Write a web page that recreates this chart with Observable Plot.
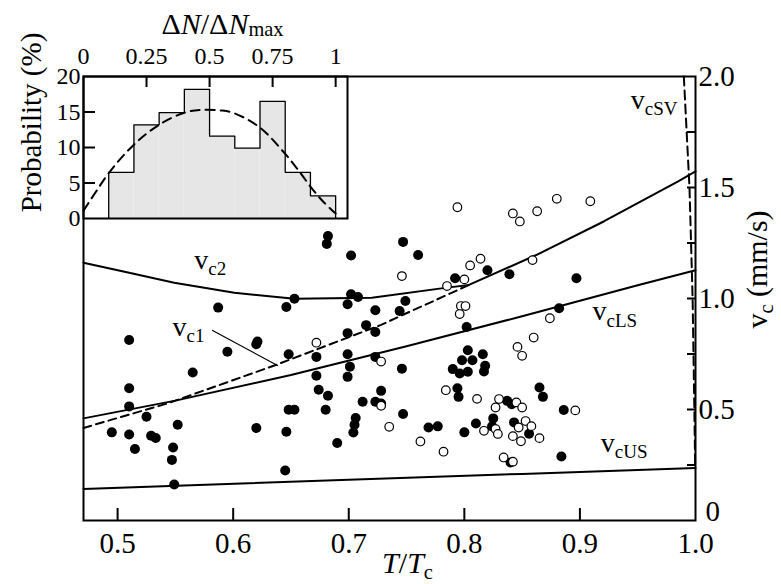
<!DOCTYPE html>
<html><head><meta charset="utf-8">
<script src="https://cdn.jsdelivr.net/npm/d3@7"></script>
<script src="https://cdn.jsdelivr.net/npm/@observablehq/plot@0.6"></script>
<style>
body{margin:0;background:#fff;}
#wrap{position:relative;width:781px;height:584px;}
#wrap svg{position:absolute;left:0;top:0;}
</style></head><body><div id="wrap"></div>
<script>
// ---------- main panel data ----------
const filledT = [0.682,0.681,0.702,0.653,0.646,0.702,0.708,0.699,0.723,0.587,0.715,0.723,0.699,0.510,0.621,0.620,0.595,0.648,0.672,0.699,0.723,0.701,0.565,0.672,0.699,0.510,0.674,0.682,0.712,0.723,0.510,0.648,0.653,0.680,0.525,0.706,0.705,0.704,0.552,0.495,0.510,0.529,0.533,0.620,0.646,0.515,0.548,0.690,0.547,0.645,0.549,
  0.747,0.760,0.820,0.839,0.897,0.792,0.749,0.744,0.802,0.882,0.803,0.798,0.807,0.816,0.818,0.817,0.790,0.796,0.803,0.746,0.728,0.728,0.794,0.795,0.865,0.868,0.837,0.841,0.886,0.747,0.769,0.777,0.825,0.810,0.824,0.800,0.843,0.856,0.840,0.884];
const filledV = [1.281,1.246,1.194,0.999,0.962,1.019,1.007,0.974,0.947,0.959,0.880,0.849,0.844,0.813,0.806,0.794,0.760,0.749,0.737,0.749,0.737,0.693,0.667,0.652,0.647,0.596,0.589,0.562,0.535,0.535,0.514,0.499,0.499,0.499,0.467,0.462,0.431,0.396,0.431,0.397,0.387,0.382,0.372,0.417,0.400,0.322,0.329,0.349,0.273,0.225,0.162,
  1.255,1.196,1.127,1.109,1.091,1.091,0.989,0.944,0.872,0.956,0.767,0.722,0.722,0.749,0.697,0.671,0.682,0.662,0.670,0.684,0.584,0.527,0.596,0.557,0.599,0.557,0.539,0.524,0.498,0.480,0.419,0.424,0.460,0.437,0.424,0.397,0.442,0.391,0.261,0.288];
const openT = [0.672,0.794,0.842,0.848,0.863,0.880,0.909,0.746,0.814,0.805,0.859,0.800,0.785,0.797,0.801,0.796,0.874,0.860,0.846,0.850,0.728,0.728,0.784,0.811,0.830,0.827,0.845,0.850,0.896,0.735,0.817,0.827,0.829,0.847,0.853,0.858,0.842,0.849,0.865,0.762,0.782,0.834,0.842];
const openV = [0.801,1.411,1.383,1.347,1.393,1.449,1.438,1.101,1.179,1.149,1.173,1.086,1.056,0.966,0.966,0.930,0.911,0.824,0.782,0.742,0.716,0.517,0.587,0.548,0.547,0.509,0.532,0.509,0.496,0.422,0.404,0.412,0.390,0.419,0.448,0.425,0.380,0.357,0.371,0.356,0.310,0.284,0.265];

const vc2T = [0.4705,0.51,0.549,0.601,0.653,0.72,0.785,0.804,0.863,0.921,0.985,1.0];
const vc2V = [1.161,1.116,1.071,1.026,0.999,1.003,1.049,1.061,1.198,1.348,1.528,1.573];
const vc1T = [0.4705,0.543,0.635,0.728,0.748,0.804];
const vc1V = [0.417,0.527,0.697,0.881,0.929,1.061];
const vcLST = [0.4705,0.55,0.65,0.75,0.85,0.95,1.0];
const vcLSV = [0.46,0.54,0.655,0.785,0.92,1.06,1.127];
const vcUST = [0.4705,0.7,0.85,1.0];
const vcUSV = [0.142,0.184,0.21,0.237];
const vcSVT = [0.9899,0.9948,0.9975,0.9990,0.9997];
const vcSVV = [2.0,1.5,1.0,0.5,0.25];
const leaderT = [0.5822,0.6384];
const leaderV = [0.856,0.698];

const curveLabels = ["v_{c2}","v_{c1}","v_{cLS}","v_{cUS}","v_{cSV}"];
const curveLabelT = [0.5663,0.5476,0.9109,0.9181,0.9440];
const curveLabelV = [1.134,0.833,0.901,0.308,1.855];

const xTicks = [0.5,0.6,0.7,0.8,0.9,1.0];
const xInnerTicks = [0.5,0.6,0.7,0.8,0.9];
const yTicks = [0.5,1.0,1.5,2.0];
const yMinorTicks = [0.25,0.5,0.75,1.0,1.25,1.5,1.75];
const yZeroLabel = ["0"];
const xTitle = "*T*/*T*_{c}";
const yTitle = "v_{c} (mm/s)";

// ---------- inset data ----------
const binEdges = [0.1,0.2,0.3,0.4,0.5,0.6,0.7,0.8,0.9,1.0];
const binHeights = [6.5,13.2,14.9,18.2,11.6,9.9,16.5,6.5,3.2];
const fitX = [0,0.05,0.1,0.2,0.3,0.4,0.47,0.55,0.6,0.7,0.8,0.85,0.9,0.95,1.0];
const fitY = [1.1,3.8,6.4,10.4,13.2,14.9,15.3,15.2,14.8,12.8,9.1,6.9,4.5,2.4,0.7];
const insetXTicks = [0,0.25,0.5,0.75,1];
const insetXInner = [0.25,0.5,0.75,1];
const insetYTicks = [0,5,10,15,20];
const insetYInner = [5,10,15];
const insetTopTitle = "Δ*N*/Δ*N*_(max)";
const insetLeftTitle = "Probability (%)";

const serif = "'Liberation Serif','Times New Roman',Times,serif";

const bins = binHeights.map((h,i)=>({x1: binEdges[i], x2: binEdges[i+1], h}));
const outline = [{x: binEdges[0], y: 0}]
  .concat(binHeights.map((h,i)=>({x: binEdges[i], y: h})))
  .concat([{x: binEdges[binEdges.length-1], y: binHeights[binHeights.length-1]}, {x: binEdges[binEdges.length-1], y: 0}]);

const line = (T, V, opts) => Plot.line(T, {x: T, y: V, stroke: "black", strokeWidth: 2, ...opts});

const main = Plot.plot({
  width: 781, height: 584,
  marginLeft: 83, marginRight: 86, marginTop: 76, marginBottom: 64,
  style: {fontFamily: serif, fontSize: "29px", color: "black", background: "transparent", overflow: "visible"},
  x: {domain: [0.4705, 1.0]},
  y: {domain: [0, 2]},
  marks: [
    line(vcUST, vcUSV),
    line(vcLST, vcLSV),
    line(vc2T, vc2V),
    line(vc1T, vc1V, {strokeDasharray: "8,5"}),
    line(vcSVT, vcSVV, {strokeDasharray: "9,5"}),
    line(leaderT, leaderV, {strokeWidth: 1.2}),
    Plot.dot(filledT, {x: filledT, y: filledV, r: 5, fill: "black", stroke: "none"}),
    Plot.dot(openT, {x: openT, y: openV, r: 4.3, fill: "white", stroke: "black", strokeWidth: 1.2}),
    Plot.text(curveLabels, {x: curveLabelT, y: curveLabelV, textAnchor: "start", lineAnchor: "bottom", fontSize: 28}),
    Plot.frame({stroke: "black", strokeWidth: 2}),
    Plot.axisX(xTicks, {anchor: "bottom", tickSize: 0, tickPadding: 12, tickFormat: d3.format(".1f"), fontSize: 29, label: null}),
    Plot.axisX(xInnerTicks, {anchor: "bottom", tickSize: -12, fill: "none", strokeWidth: 2, label: null}),
    Plot.axisY(yTicks, {anchor: "right", tickSize: 0, tickPadding: 3, tickFormat: d => d.toFixed(1), fontSize: 29, label: null}),
    Plot.axisY(yMinorTicks, {anchor: "right", tickSize: -9, fill: "none", strokeWidth: 2, label: null}),
    Plot.text(yZeroLabel, {frameAnchor: "bottom-right", textAnchor: "start", lineAnchor: "bottom", dx: 10, fontSize: 29}),
    Plot.text([xTitle], {frameAnchor: "bottom", textAnchor: "middle", lineAnchor: "bottom", dx: 18, dy: 52, fontSize: 30}),
    Plot.text([yTitle], {frameAnchor: "right", textAnchor: "middle", rotate: -90, lineAnchor: "bottom", dx: 71, dy: -29, fontSize: 30})
  ]
});

const inset = Plot.plot({
  width: 360, height: 230,
  marginLeft: 83, marginRight: 13, marginTop: 76, marginBottom: 12,
  style: {fontFamily: serif, fontSize: "24px", color: "black", background: "transparent", overflow: "visible"},
  x: {domain: [0, 1.047]},
  y: {domain: [0, 20]},
  marks: [
    Plot.rect(bins, {x1: "x1", x2: "x2", y1: d => 0, y2: "h", fill: "#e6e6e6", inset: 0}),
    Plot.line(outline, {x: "x", y: "y", curve: "step-after", stroke: "black", strokeWidth: 1.3}),
    Plot.line(fitX, {x: fitX, y: fitY, curve: "catmull-rom", stroke: "black", strokeWidth: 2, strokeDasharray: "9,6"}),
    Plot.frame({stroke: "black", strokeWidth: 2}),
    Plot.axisX(insetXTicks, {anchor: "top", tickSize: 0, tickPadding: 13, tickFormat: d => String(d), fontSize: 24, label: null}),
    Plot.axisX(insetXInner, {anchor: "top", tickSize: -10, fill: "none", strokeWidth: 2, label: null}),
    Plot.axisY(insetYTicks, {anchor: "left", tickSize: 0, tickPadding: 3, fontSize: 24, label: null}),
    Plot.axisY(insetYInner, {anchor: "left", tickSize: -12, fill: "none", strokeWidth: 2, label: null}),
    Plot.text([insetTopTitle], {frameAnchor: "top", textAnchor: "middle", lineAnchor: "bottom", dx: 7, dy: -43, fontSize: 30}),
    Plot.text([insetLeftTitle], {frameAnchor: "left", textAnchor: "middle", rotate: -90, lineAnchor: "bottom", dx: -43, dy: -25, fontSize: 29})
  ]
});

// _{..} = subscript, _(..) = slightly lowered subscript, *..* = italic
function richify(svg) {
  svg.querySelectorAll("text").forEach(el => {
    const s = el.textContent;
    if (!/[*_]/.test(s)) return;
    while (el.firstChild) el.removeChild(el.firstChild);
    const re = /\*([^*]+)\*|_\{([^}]+)\}|_\(([^)]+)\)|([^*_]+)/g;
    let m, back = null;
    while ((m = re.exec(s))) {
      const t = document.createElementNS("http://www.w3.org/2000/svg", "tspan");
      if (m[2] !== undefined || m[3] !== undefined) {
        const shift = m[2] !== undefined ? 0.33 : 0.1;
        t.textContent = m[2] !== undefined ? m[2] : m[3];
        t.setAttribute("style", "font-size:0.68em");
        t.setAttribute("dy", shift + "em");
        back = -(shift * 0.68).toFixed(3) + "em";
      } else {
        t.textContent = m[1] !== undefined ? m[1] : m[4];
        if (m[1] !== undefined) t.setAttribute("font-style", "italic");
        if (back) { t.setAttribute("dy", back); back = null; }
      }
      el.appendChild(t);
    }
  });
}
richify(main); richify(inset);
const wrap = document.getElementById("wrap");
wrap.append(main, inset);
</script>
</body></html>
